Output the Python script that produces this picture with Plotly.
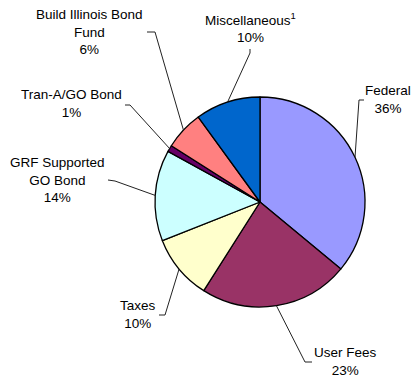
import math
import plotly.graph_objects as go

# Sources of funds, percent of total
categories = ["Federal", "User Fees", "Taxes", "GRF Supported GO Bond",
              "Tran-A/GO Bond", "Build Illinois Bond Fund", "Miscellaneous"]
shares = [36, 23, 10, 14, 1, 6, 10]
label_names = ["Federal", "User Fees", "Taxes", "GRF Supported<br>GO Bond",
               "Tran-A/GO Bond", "Build Illinois Bond<br>Fund",
               "Miscellaneous<sup>1</sup>"]
slice_colors = ["#9999FF", "#993366", "#FFFFCC", "#CCFFFF",
                "#660066", "#FF8080", "#0066CC"]

W, H = 411, 380
CX, CY, R = 260, 202, 105  # pie centre and radius in pixels

# label centre, and leader hook (start, corner) in pixels
label_pos = [(388, 100), (345, 361), (138, 314), (57, 180),
             (71, 104), (89, 32), (250, 27)]
hooks = [((364, 100), (359, 100)),
         ((312, 362), (305, 362)),
         ((159, 315), (165, 315)),
         ((108, 180), (115, 181)),
         ((125, 105), (130, 105)),
         ((147, 32), (155, 32)),
         ((250, 49), (250, 53))]


def px(x):
    return x / W


def py(y):
    return 1 - y / H


fig = go.Figure(go.Pie(
    labels=categories,
    values=shares,
    sort=False,
    direction="clockwise",
    rotation=0,
    textinfo="none",
    hoverinfo="label+percent",
    marker=dict(colors=slice_colors, line=dict(color="black", width=1.3)),
    domain=dict(x=[px(CX - R), px(CX + R)], y=[py(CY + R), py(CY - R)]),
    showlegend=False,
))

total = sum(shares)
annotations = []
shapes = []
cum = 0
for name, val, (lx, ly), (h0, h1) in zip(label_names, shares, label_pos, hooks):
    mid = (cum + val / 2) / total * 2 * math.pi
    cum += val
    ex = CX + R * math.sin(mid)
    ey = CY - R * math.cos(mid)
    annotations.append(dict(
        x=px(lx), y=py(ly), xref="paper", yref="paper",
        text=f"{name}<br>{round(val / total * 100)}%",
        showarrow=False, xanchor="center", yanchor="middle",
        font=dict(family="Liberation Sans, Arial", size=13.5, color="#000"),
    ))
    path = (f"M {px(h0[0])} {py(h0[1])} L {px(h1[0])} {py(h1[1])} "
            f"L {px(ex)} {py(ey)}")
    shapes.append(dict(type="path", path=path, xref="paper", yref="paper",
                       line=dict(color="#222", width=1)))

fig.update_layout(
    width=W, height=H,
    margin=dict(l=0, r=0, t=0, b=0),
    paper_bgcolor="white",
    plot_bgcolor="white",
    annotations=annotations,
    shapes=shapes,
)

fig.write_html("out.html")
